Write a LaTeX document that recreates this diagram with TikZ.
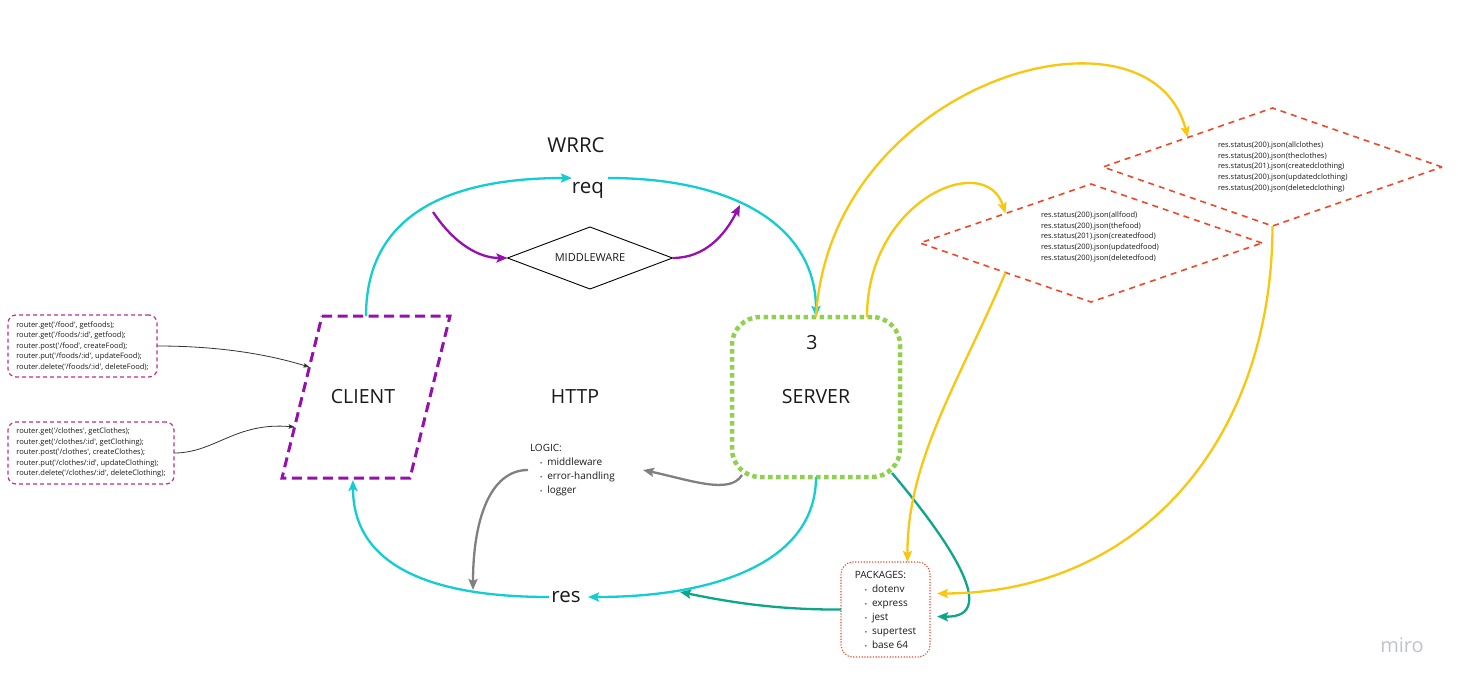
\documentclass[tikz,border=0pt]{standalone}
\usepackage{fontspec}
\setmainfont{Open Sans}
\usetikzlibrary{shapes.geometric,arrows.meta,calc}
\definecolor{cy}{HTML}{12CDD4}
\definecolor{pu}{HTML}{9510AC}
\definecolor{gr}{HTML}{8FD14F}
\definecolor{ye}{HTML}{FAC710}
\definecolor{rd}{HTML}{F24726}
\definecolor{te}{HTML}{0CA789}
\definecolor{gy}{HTML}{808080}
\definecolor{mg}{HTML}{C0318A}
\definecolor{tx}{HTML}{1A1A1A}
\definecolor{wm}{HTML}{C0C3CE}
\newcommand{\bul}{{\fontsize{6}{6}\selectfont\textbullet}}
\newcommand{\q}{\textquotesingle}
\begin{document}
\begin{tikzpicture}[x=1pt,y=-1pt,
  every node/.style={text=tx, outer sep=0pt},
  big/.style={font=\fontsize{20.5}{24}\selectfont, inner sep=0pt},
  mid/.style={font=\fontsize{19.5}{23}\selectfont, inner sep=0pt},
  tipA/.style={-{Stealth[length=11pt,width=9pt,inset=2pt]}},
  conn/.style={line width=2.3pt, tipA},
  cyanc/.style={conn, draw=cy},
  purc/.style={conn, draw=pu},
  grayc/.style={conn, draw=gy},
  tealc/.style={conn, draw=te},
  yelc/.style={conn, draw=ye},
  blk/.style={draw=black!80, line width=0.8pt, -{Stealth[length=6pt,width=4.5pt,inset=1pt]}},
  router/.style={draw=mg, line width=1.2pt, dash pattern=on 4pt off 3pt, rounded corners=8pt,
     minimum height=62pt, align=left, inner sep=0pt, font=\fontsize{7.5}{10.5}\selectfont},
  bigdia/.style={diamond, draw=rd, line width=1.6pt, dash pattern=on 6pt off 5pt,
     minimum height=118pt, aspect=2.9, inner sep=0pt},
  diatext/.style={align=left, inner sep=0pt, anchor=west, font=\fontsize{7.5}{10.6}\selectfont},
  listtext/.style={align=left, font=\fontsize{10}{14}\selectfont},
  clientborder/.style={draw=pu, line width=3pt, dash pattern=on 10pt off 5.5pt}
]
\useasboundingbox (0,0) rectangle (1458,685);
\fill[white] (0,0) rectangle (1458,685);

% titles
\node[big] (wrrc) at (576,145) {WRRC};
\node[big] (req) at (588,190) {req};
\node[big] (res) at (566,597) {res};
\node[mid] (http) at (575,397) {HTTP};
\coordinate (reqin) at (572,178);
\coordinate (reqout) at (608,178);
\coordinate (resin) at (588,597);
\coordinate (resout) at (549,597);

% client (parallelogram)
\coordinate (ctl) at (322,316);
\coordinate (ctr) at (450,316);
\coordinate (cbr) at (410,478);
\coordinate (cbl) at (282,478);
\draw[clientborder] (ctl) -- (ctr) -- (cbr) -- (cbl) -- cycle;
\node[mid] (client) at (363,397) {CLIENT};
\coordinate (ctop) at (366,316);
\coordinate (cbot) at (353,480);
\coordinate (cl1) at ($(cbl)!0.685!(ctl)$);
\coordinate (cl2) at ($(cbl)!0.315!(ctl)$);

% server
\node[draw=gr, line width=4.5pt, dash pattern=on 4.5pt off 3.5pt, rounded corners=28pt,
      minimum width=168pt, minimum height=160pt, inner sep=0pt, mid] (server) at (816,397) {SERVER};
\node[mid] (srvnum) at (812,343) {3};

% middleware
\node[diamond, draw=black, line width=0.9pt, minimum width=165pt, minimum height=62pt, aspect=2.66,
      inner sep=0pt, font=\fontsize{11}{13}\selectfont] (mw) at (590,258) {MIDDLEWARE};
\coordinate (mwin) at (433,212);
\coordinate (mwout) at (740,205);

% routers
\node[router, minimum width=149pt] (rfood) at (82.5,346) {%
router.get(\q/food\q, getfoods);\\
router.get(\q/foods/:id\q, getfood);\\
router.post(\q/food\q, createFood);\\
router.put(\q/foods/:id\q, updateFood);\\
router.delete(\q/foods/:id\q, deleteFood);};
\node[router, minimum width=166pt] (rcloth) at (91,453) {%
router.get(\q/clothes\q, getClothes);\\
router.get(\q/clothes/:id\q, getClothing);\\
router.post(\q/clothes\q, createClothes);\\
router.put(\q/clothes/:id\q, updateClothing);\\
router.delete(\q/clothes/:id\q, deleteClothing);};

% logic
\node[listtext, anchor=west, text width=111pt, inner sep=2pt] (logic) at (528,470) {%
LOGIC:\\
\hspace*{10pt}\bul\hspace{5pt}middleware\\
\hspace*{10pt}\bul\hspace{5pt}error-handling\\
\hspace*{10pt}\bul\hspace{5pt}logger};

% packages
\node[listtext, draw=rd, line width=1.1pt, dash pattern=on 1.2pt off 1.6pt, rounded corners=12pt,
      minimum width=89pt, minimum height=95pt, inner sep=0pt] (pkg) at (885.5,609.5) {%
PACKAGES:\\
\hspace*{10pt}\bul\hspace{5pt}dotenv\\
\hspace*{10pt}\bul\hspace{5pt}express\\
\hspace*{10pt}\bul\hspace{5pt}jest\\
\hspace*{10pt}\bul\hspace{5pt}supertest\\
\hspace*{10pt}\bul\hspace{5pt}base 64};

% response diamonds
\node[bigdia, minimum width=342pt] (food) at (1091,243) {};
\node[diatext] (foodtxt) at (1041,237) {%
res.status(200).json(allfood)\\
res.status(200).json(thefood)\\
res.status(201).json(createdfood)\\
res.status(200).json(updatedfood)\\
res.status(200).json(deletedfood)};
\node[bigdia, minimum width=339pt] (clothes) at (1272.5,167) {};
\node[diatext] (clothtxt) at (1218,167) {%
res.status(200).json(allclothes)\\
res.status(200).json(theclothes)\\
res.status(201).json(createdclothing)\\
res.status(200).json(updatedclothing)\\
res.status(200).json(deletedclothing)};

% watermark
\node[font=\fontsize{20}{24}\selectfont, text=wm, inner sep=0pt] (miro) at (1402,645) {miro};

% connectors
\draw[cyanc] (ctop) .. controls (366,220) and (440,178) .. (reqin);
\draw[cyanc] (reqout) .. controls (740,178) and (816,230) .. (server.north);
\draw[cyanc] (server.south) .. controls (816,560) and (720,597) .. (resin);
\draw[cyanc] (resout) .. controls (420,597) and (353,560) .. (cbot);

\draw[purc] (mwin) .. controls (455,245) and (480,258) .. (mw.west);
\draw[purc] (mw.east) .. controls (705,258) and (725,235) .. (mwout);

\coordinate (resdrop) at (473,590);
\draw[grayc] ([shift={(10,-2)}]server.south west) .. controls (730,495) and (690,480) .. (logic.east);
\draw[grayc] (logic.west) .. controls (490,470) and (473,520) .. (resdrop);

\coordinate (pkgout) at (680,592);
\draw[tealc] (pkg.west) .. controls (770,610) and (720,600) .. (pkgout);
\draw[tealc] ([shift={(-8,-4)}]server.south east) .. controls (940,530) and (1005,618) .. ([shift={(7,7)}]pkg.east);

\draw[yelc] (server.north) .. controls (830,80) and (1150,-10) .. (clothes.north west);
\draw[yelc] ([xshift=51pt]server.north) .. controls (867,200) and (985,150) .. (food.north west);
\draw[yelc] (food.south west) .. controls (960,380) and (907,460) .. ([xshift=22pt]pkg.north);
\draw[yelc] (clothes.south) .. controls (1272,440) and (1140,593) .. ([shift={(7,-16)}]pkg.east);

\draw[blk] (rfood.east) .. controls (210,346) and (260,352) .. (cl1);
\draw[blk] (rcloth.east) .. controls (215,453) and (235,422) .. (cl2);
\end{tikzpicture}
\end{document}
